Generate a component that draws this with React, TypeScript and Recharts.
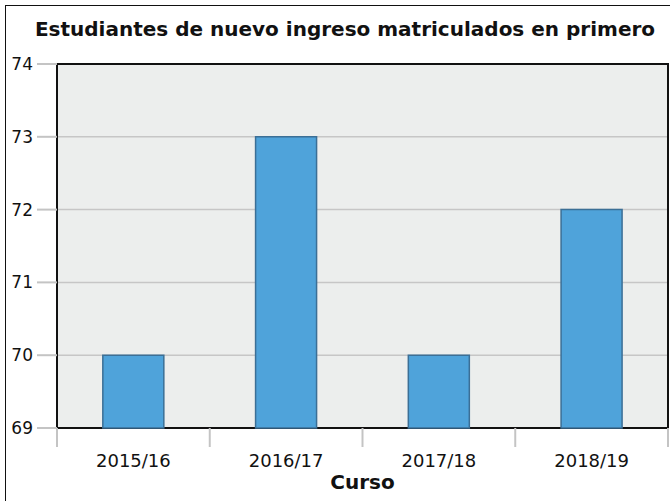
import { Bar, BarChart, CartesianGrid, ReferenceArea, XAxis, YAxis } from "recharts";

// valores
const cursos = ["2015/16", "2016/17", "2017/18", "2018/19"];
const matriculados = [70, 73, 70, 72];
const yTicks = [69, 70, 71, 72, 73, 74];

const data = cursos.map((curso, i) => ({ curso, value: matriculados[i] }));

const FONT = "'DejaVu Sans', Verdana, sans-serif";

// tick de categoría: marca gris en los límites de cada banda y la etiqueta centrada
function CursoTick(props: any) {
  const { x, y, payload, index, visibleTicksCount } = props;
  const half = payload.offset ?? 0;
  const last = index === visibleTicksCount - 1;
  return (
    <g>
      <line x1={x - half} x2={x - half} y1={y} y2={y + 19} stroke="#c4c4c4" strokeWidth={2} />
      {last && <line x1={x + half} x2={x + half} y1={y} y2={y + 19} stroke="#c4c4c4" strokeWidth={2} />}
      <text x={x} y={y + 39} textAnchor="middle" fontSize={18} fontFamily={FONT} fill="#111">
        {payload.value}
      </text>
    </g>
  );
}

export default function App() {
  return (
    <div style={{ position: "absolute", left: 0, top: 0, width: 670, height: 501, background: "#fff" }}>
      <div
        style={{
          position: "absolute",
          left: 5,
          top: 5,
          width: 680,
          height: 520,
          borderLeft: "1.5px solid #111",
          borderTop: "1.5px solid #111",
        }}
      />
      <div
        style={{
          position: "absolute",
          left: 20,
          width: 650,
          top: 17,
          textAlign: "center",
          fontFamily: FONT,
          fontWeight: "bold",
          fontSize: 20,
          color: "#111",
          whiteSpace: "nowrap",
        }}
      >
        Estudiantes de nuevo ingreso matriculados en primero
      </div>
      <BarChart
        width={670}
        height={501}
        data={data}
        margin={{ top: 64, right: 2, bottom: 0, left: 0 }}
        barCategoryGap="30%"
        style={{ position: "absolute", left: 0, top: 0 }}
      >
        <CartesianGrid vertical={false} stroke="#c6c6c6" strokeWidth={1.5} fill="#eceeed" />
        <XAxis
          dataKey="curso"
          height={73}
          tickSize={0}
          tickMargin={0}
          axisLine={false}
          tickLine={false}
          tick={<CursoTick />}
          interval={0}
          label={{
            value: "Curso",
            position: "insideBottom",
            offset: 12,
            fontSize: 20,
            fontWeight: "bold",
            fontFamily: FONT,
            fill: "#111",
          }}
        />
        <YAxis
          domain={[69, 74]}
          ticks={yTicks}
          width={57}
          tickSize={20}
          tickMargin={4}
          axisLine={false}
          tickLine={{ stroke: "#c4c4c4", strokeWidth: 2 }}
          tick={{ fontSize: 17, fontFamily: FONT, fill: "#111" }}
        />
        <Bar dataKey="value" fill="#4fa3da" stroke="#3b6f96" strokeWidth={1.5} isAnimationActive={false} />
        <ReferenceArea y1={69} y2={74} fill="none" stroke="#111" strokeWidth={2} />
      </BarChart>
    </div>
  );
}
